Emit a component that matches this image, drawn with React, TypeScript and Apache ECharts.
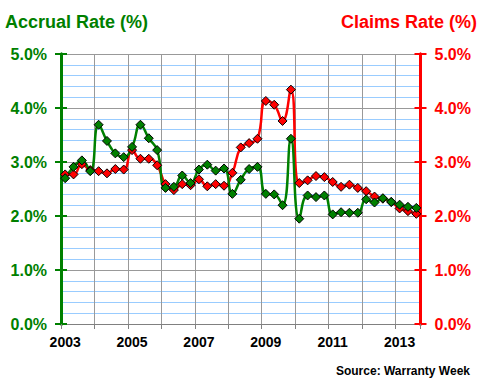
import React, { useEffect, useRef } from "react";
import * as echarts from "echarts";

const years = [2003, 2004, 2005, 2006, 2007, 2008, 2009, 2010, 2011, 2012, 2013];
const quarterNames = ["Q1", "Q2", "Q3", "Q4"];
const quarters: string[] = [];
years.forEach((y) => quarterNames.forEach((q) => quarters.push(`${y} ${q}`)));
quarters.length = 43; // 2003 Q1 .. 2013 Q3

const accrualRate = [
  2.70, 2.91, 3.03, 2.83, 3.69, 3.39, 3.16, 3.09, 3.28, 3.69, 3.44, 3.22,
  2.52, 2.54, 2.75, 2.61, 2.86, 2.95, 2.84, 2.88, 2.41, 2.67, 2.87, 2.91,
  2.41, 2.40, 2.20, 3.43, 1.95, 2.38, 2.35, 2.38, 2.03, 2.07, 2.06, 2.06,
  2.31, 2.25, 2.33, 2.26, 2.21, 2.17, 2.15,
];
const claimsRate = [
  2.77, 2.77, 2.96, 2.85, 2.83, 2.79, 2.87, 2.86, 3.22, 3.06, 3.06, 2.94,
  2.59, 2.48, 2.59, 2.57, 2.68, 2.55, 2.59, 2.56, 2.80, 3.27, 3.35, 3.43,
  4.13, 4.06, 3.76, 4.34, 2.61, 2.66, 2.74, 2.72, 2.63, 2.54, 2.58, 2.52,
  2.46, 2.36, 2.32, 2.26, 2.14, 2.09, 2.04,
];

const GREEN = "#008000";
const RED = "#ff0000";
const FONT = '"Liberation Sans", Arial, sans-serif';

function yAxisDef(color: string, position: "left" | "right", main: boolean, inside: boolean) {
  return {
    type: "value",
    position,
    min: 0,
    max: 5,
    interval: 1,
    axisLine: { show: true, lineStyle: { color, width: 3 } },
    axisTick: { show: true, inside, length: 6, lineStyle: { color, width: 2 } },
    axisLabel: {
      show: main,
      formatter: (v: number) => v.toFixed(1) + "%",
      color,
      fontSize: 16,
      fontWeight: "bold",
      fontFamily: FONT,
      margin: 14,
    },
    splitLine: { show: main && position === "left", lineStyle: { color: "#999999", width: 1 } },
    minorTick: { show: false, splitNumber: 5 },
    minorSplitLine: { show: main && position === "left", lineStyle: { color: "#99ccff", width: 1 } },
  };
}

export default function App() {
  const ref = useRef<HTMLDivElement>(null);
  useEffect(() => {
    document.body.style.margin = "0";
    if (!ref.current) return;
    const chart = echarts.init(ref.current, undefined, { renderer: "svg" });
    chart.setOption({
      animation: false,
      backgroundColor: "#ffffff",
      grid: { left: 61, right: 59.5, top: 54, bottom: 56, containLabel: false },
      xAxis: {
        type: "category",
        data: quarters,
        boundaryGap: true,
        axisLine: { show: true, lineStyle: { color: "#808080", width: 1 } },
        axisTick: { show: true, interval: 3, length: 5, lineStyle: { color: "#808080" } },
        axisLabel: {
          interval: 7,
          formatter: (v: string) => v.slice(0, 4),
          color: "#000000",
          fontSize: 14,
          fontWeight: "bold",
          fontFamily: FONT,
          margin: 11,
        },
        splitLine: { show: true, interval: 3, lineStyle: { color: "#999999", width: 1 } },
      },
      yAxis: [
        yAxisDef(GREEN, "left", true, false),
        yAxisDef(RED, "right", true, false),
        yAxisDef(GREEN, "left", false, true),
        yAxisDef(RED, "right", false, true),
      ],
      series: [
        {
          name: "Claims Rate",
          type: "line",
          yAxisIndex: 1,
          data: claimsRate,
          smooth: 0.5,
          showAllSymbol: true,
          symbol: "diamond",
          symbolSize: 9,
          lineStyle: { color: RED, width: 2.5 },
          itemStyle: { color: RED, borderColor: "#000000", borderWidth: 1 },
        },
        {
          name: "Accrual Rate",
          type: "line",
          yAxisIndex: 0,
          data: accrualRate,
          smooth: 0.5,
          showAllSymbol: true,
          symbol: "diamond",
          symbolSize: 9,
          lineStyle: { color: GREEN, width: 2.5 },
          itemStyle: { color: GREEN, borderColor: "#000000", borderWidth: 1 },
        },
      ],
      graphic: [
        {
          type: "text",
          x: 5,
          y: 22,
          style: {
            text: "Accrual Rate (%)",
            fill: GREEN,
            font: `bold 18px ${FONT}`,
            align: "left",
            verticalAlign: "middle",
          },
        },
        {
          type: "text",
          x: 477,
          y: 22,
          style: {
            text: "Claims Rate (%)",
            fill: RED,
            font: `bold 18px ${FONT}`,
            align: "right",
            verticalAlign: "middle",
          },
        },
        {
          type: "text",
          x: 470,
          y: 371,
          style: {
            text: "Source: Warranty Week",
            fill: "#000000",
            font: `bold 12px ${FONT}`,
            align: "right",
            verticalAlign: "middle",
          },
        },
      ],
    });
    return () => chart.dispose();
  }, []);
  return <div ref={ref} style={{ width: 480, height: 380 }} />;
}
